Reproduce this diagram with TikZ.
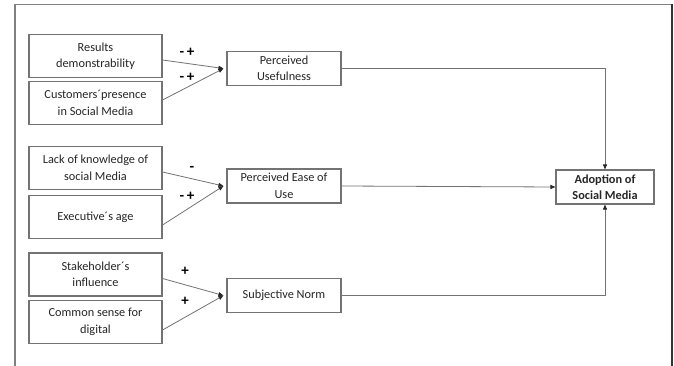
\documentclass[tikz,border=0pt]{standalone}
\usepackage{fontspec}
\setmainfont{Carlito}
\usetikzlibrary{arrows.meta}
\begin{document}
\begin{tikzpicture}[x=1pt,y=-1pt,
  box/.style={draw=black!55, line width=1.1pt, align=center, inner sep=0pt, font=\fontsize{12.3}{16.5}\selectfont, text=black!85},
  conn/.style={draw=black!55, line width=0.8pt, -{Triangle[length=5pt,width=4pt,color=black!85]}},
  sign/.style={font=\bfseries\fontsize{15}{16}\selectfont, inner sep=0pt}]
\useasboundingbox (0,0) rectangle (674,366);
\fill[white] (0,0) rectangle (674,366);
% frame
\coordinate (fbl) at (15,366);
\coordinate (ftl) at (15,4.5);
\coordinate (ftr) at (672,4.5);
\coordinate (fbr) at (672,366);
\draw[black!50, line width=1.2pt] (fbl) -- (ftl) -- (ftr);
\draw[black!80, line width=1.2pt] (ftr) -- (fbr);
% input boxes
\node[box, minimum width=133pt, minimum height=43pt] (rd) at (95.5,56) {Results\\demonstrability};
\node[box, minimum width=133pt, minimum height=43pt] (cp) at (95.5,103) {Customers´presence\\in Social Media};
\node[box, minimum width=133pt, minimum height=43pt] (lk) at (95.5,168) {Lack of knowledge of\\social Media};
\node[box, minimum width=133pt, minimum height=43pt] (ea) at (95.5,217) {Executive´s age};
\node[box, minimum width=133pt, minimum height=43pt] (si) at (95.5,274.5) {Stakeholder´s\\influence};
\node[box, minimum width=133pt, minimum height=43pt] (cs) at (95.5,322) {Common sense for\\digital};
% middle boxes
\node[box, minimum width=114pt, minimum height=34pt] (pu) at (284,68.5) {Perceived\\Usefulness};
\node[box, minimum width=114pt, minimum height=34pt] (peu) at (284,186) {Perceived Ease of\\Use};
\node[box, minimum width=114pt, minimum height=34pt] (sn) at (284,295.5) {Subjective Norm};
% target
\node[box, minimum width=98pt, minimum height=34pt, font=\bfseries\fontsize{12.3}{16.5}\selectfont] (ad) at (605,187) {Adoption of\\Social Media};
% connectors
\draw[conn] ([yshift=-4pt]rd.east) -- ([xshift=-3pt]pu.west);
\draw[conn] ([yshift=3pt]cp.east) -- ([xshift=-3pt]pu.west);
\draw[conn] ([yshift=-4pt]lk.east) -- ([xshift=-3pt]peu.west);
\draw[conn] ([yshift=-8pt]ea.east) -- ([xshift=-3pt]peu.west);
\draw[conn] ([yshift=-4pt]si.east) -- ([xshift=-3pt]sn.west);
\draw[conn] ([yshift=-8pt]cs.east) -- ([xshift=-3pt]sn.west);
\draw[conn] (pu.east) -| (ad.north);
\draw[conn] (peu.east) -- (ad.west);
\draw[conn] (sn.east) -| (ad.south);
% signs
\node[sign] (s1) at (187,52) {-\,+};
\node[sign] (s2) at (187,77) {-\,+};
\node[sign] (s3) at (192,169) {-};
\node[sign] (s4) at (187,196) {-\,+};
\node[sign] (s5) at (185,271) {+};
\node[sign] (s6) at (185,301) {+};
\end{tikzpicture}
\end{document}
